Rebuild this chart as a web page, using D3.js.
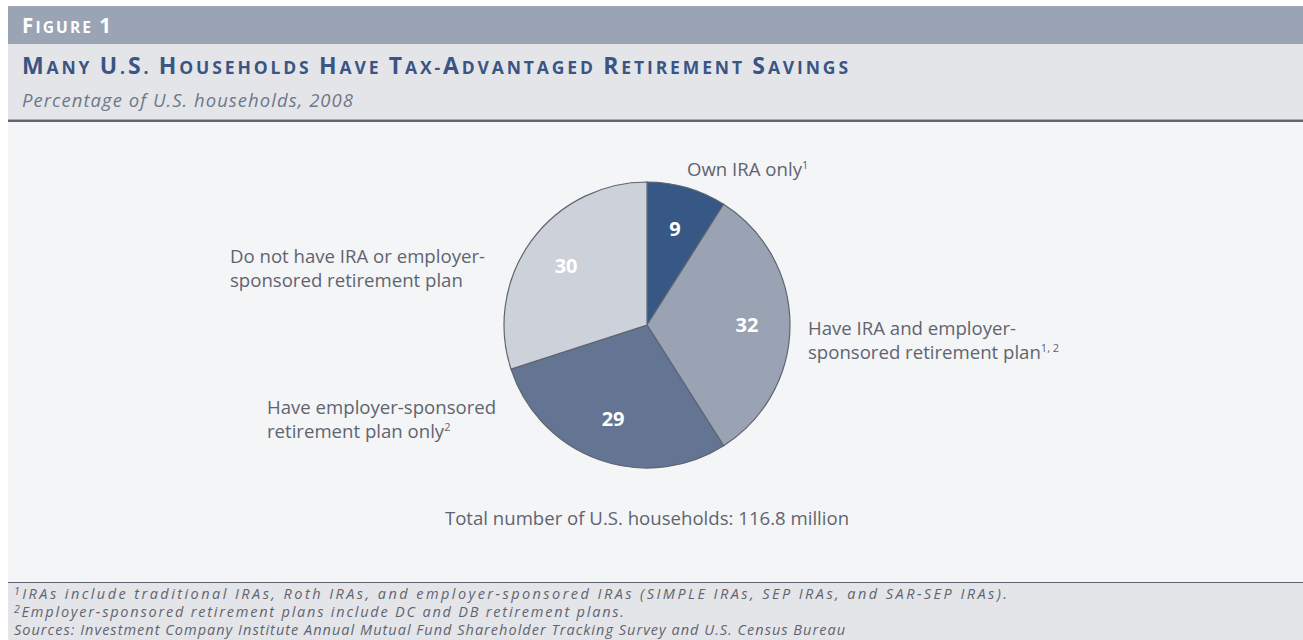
<!DOCTYPE html>
<meta charset="utf-8">
<script src="https://cdn.jsdelivr.net/npm/d3@7"></script>
<style>
  body { margin: 0; background: #fff; }
  text { font-family: "Open Sans", sans-serif; }
  .lbl { fill: #5f6470; font-size: 18.6px; }
  .note { fill: #5f6470; font-size: 14.5px; font-style: italic; }
</style>
<body>
<script>

  // data
  var categories = ["Own IRA only", "Have IRA and employer-sponsored retirement plan",
                    "Have employer-sponsored retirement plan only",
                    "Do not have IRA or employer-sponsored retirement plan"];
  var values = [9, 32, 29, 30];
  var colors = ["#375784", "#9aa3b3", "#637593", "#cdd1da"];

  // label lines (with footnote marks) for each slice
  var labelLines = [
    [["Own IRA only", "1"]],
    [["Have IRA and employer-", ""], ["sponsored retirement plan", "1, 2"]],
    [["Have employer-sponsored", ""], ["retirement plan only", "2"]],
    [["Do not have IRA or employer-", ""], ["sponsored retirement plan", ""]]
  ];
  // label offsets from pie centre
  var labelPos = [
    {dx: 40, dy: -149},
    {dx: 161, dy: 10},
    {dx: -380, dy: 89},
    {dx: -417, dy: -62}
  ];

  var footnotes = [
    ["1", "IRAs include traditional IRAs, Roth IRAs, and employer-sponsored IRAs (SIMPLE IRAs, SEP IRAs, and SAR-SEP IRAs)."],
    ["2", "Employer-sponsored retirement plans include DC and DB retirement plans."],
    ["", "Sources: Investment Company Institute Annual Mutual Fund Shareholder Tracking Survey and U.S. Census Bureau"]
  ];
  var footWidths = [993, 610, 831];

  var width = 1303,
      height = 640,
      left = 8,
      textX = 22;

  var svg = d3.select("body").append("svg")
      .attr("width", width)
      .attr("height", height);

  // spread letters so a text takes a given width
  function fitWidth(t, target) {
    var s = t.text();
    var len = t.node().getComputedTextLength();
    t.style("letter-spacing", ((target - len) / (s.length - 1)) + "px");
  }

  // fake small caps: capitals stay big, lower case become smaller capitals
  function smallCaps(t, str, big, small) {
    var runs = [];
    str.split("").forEach(function(c) {
      var isBig = /[A-Z0-9]/.test(c);
      var last = runs[runs.length - 1];
      if (last && last.big == isBig) last.s += c;
      else runs.push({big: isBig, s: c});
    });
    runs.forEach(function(r) {
      t.append("tspan")
          .style("font-size", (r.big ? big : small) + "px")
          .text(r.s.toUpperCase());
    });
  }

  // background bands
  svg.append("rect").attr("x", left).attr("y", 6).attr("width", width - left).attr("height", 38).attr("fill", "#9aa4b5");
  svg.append("rect").attr("x", left).attr("y", 44).attr("width", width - left).attr("height", 77).attr("fill", "#e4e5e9");
  svg.append("rect").attr("x", left).attr("y", 122).attr("width", width - left).attr("height", 461).attr("fill", "#f4f5f7");
  svg.append("rect").attr("x", left).attr("y", 583).attr("width", width - left).attr("height", 57).attr("fill", "#e4e5e9");
  svg.append("rect").attr("x", left).attr("y", 119).attr("width", width - left).attr("height", 1).attr("fill", "#a9adb6");
  svg.append("rect").attr("x", left).attr("y", 120).attr("width", width - left).attr("height", 2).attr("fill", "#5f6470");
  svg.append("rect").attr("x", left).attr("y", 582).attr("width", width - left).attr("height", 1).attr("fill", "#5f6470");

  var fig = svg.append("text")
      .attr("x", textX).attr("y", 33)
      .style("fill", "#fff")
      .style("font-weight", 700);
  smallCaps(fig, "Figure 1", 20.5, 15.5);
  fitWidth(fig, 89);

  var title = svg.append("text")
      .attr("x", textX).attr("y", 74)
      .style("fill", "#3a5584")
      .style("font-weight", 700);
  smallCaps(title, "Many U.S. Households Have Tax-Advantaged Retirement Savings", 23, 17.5);
  fitWidth(title, 826);

  var sub = svg.append("text")
      .attr("x", textX).attr("y", 107)
      .style("fill", "#6f7789")
      .style("font-style", "italic")
      .style("font-size", "18.5px")
      .text("Percentage of U.S. households, 2008");
  fitWidth(sub, 331);

  // pie
  var cx = 647, cy = 325, r = 143;

  var pie = d3.pie().sort(null).value(function(d) { return d; });
  var arc = d3.arc().innerRadius(0).outerRadius(r);
  var labelArc = d3.arc().innerRadius(100).outerRadius(100);

  var g = svg.append("g").attr("transform", "translate(" + cx + "," + cy + ")");
  var arcs = pie(values);

  g.selectAll("path")
      .data(arcs)
      .enter().append("path")
      .attr("d", arc)
      .attr("fill", function(d, i) { return colors[i]; })
      .attr("stroke", "#5f6470")
      .attr("stroke-width", 1.2);

  g.selectAll("text.val")
      .data(arcs)
      .enter().append("text")
      .attr("class", "val")
      .attr("transform", function(d) { return "translate(" + labelArc.centroid(d) + ")"; })
      .attr("text-anchor", "middle")
      .attr("dy", "0.35em")
      .style("fill", "#fff")
      .style("font-weight", 700)
      .style("font-size", "20px")
      .text(function(d) { return d.data; });

  // outside labels
  labelLines.forEach(function(lines, i) {
    var t = g.append("text")
        .attr("class", "lbl")
        .attr("x", labelPos[i].dx)
        .attr("y", labelPos[i].dy);
    lines.forEach(function(ln, j) {
      t.append("tspan")
          .attr("x", labelPos[i].dx)
          .attr("dy", j == 0 ? 0 : 24)
          .text(ln[0]);
      if (ln[1]) {
        t.append("tspan")
            .attr("dy", -7)
            .style("font-size", "11px")
            .text(ln[1]);
        t.append("tspan").attr("dy", 7).text("");
      }
    });
  });

  svg.append("text")
      .attr("class", "lbl")
      .attr("x", cx).attr("y", 525)
      .attr("text-anchor", "middle")
      .text("Total number of U.S. households: 116.8 million");

  // footnotes
  footnotes.forEach(function(f, i) {
    var t = svg.append("text")
        .attr("class", "note")
        .attr("x", textX - 8)
        .attr("y", 599 + i * 18);
    if (f[0]) {
      t.append("tspan").attr("dy", -4).style("font-size", "10.5px").text(f[0]);
      t.append("tspan").attr("dy", 4).text(f[1]);
    } else {
      t.text(f[1]);
    }
    fitWidth(t, footWidths[i]);
  });

</script>
</body>
